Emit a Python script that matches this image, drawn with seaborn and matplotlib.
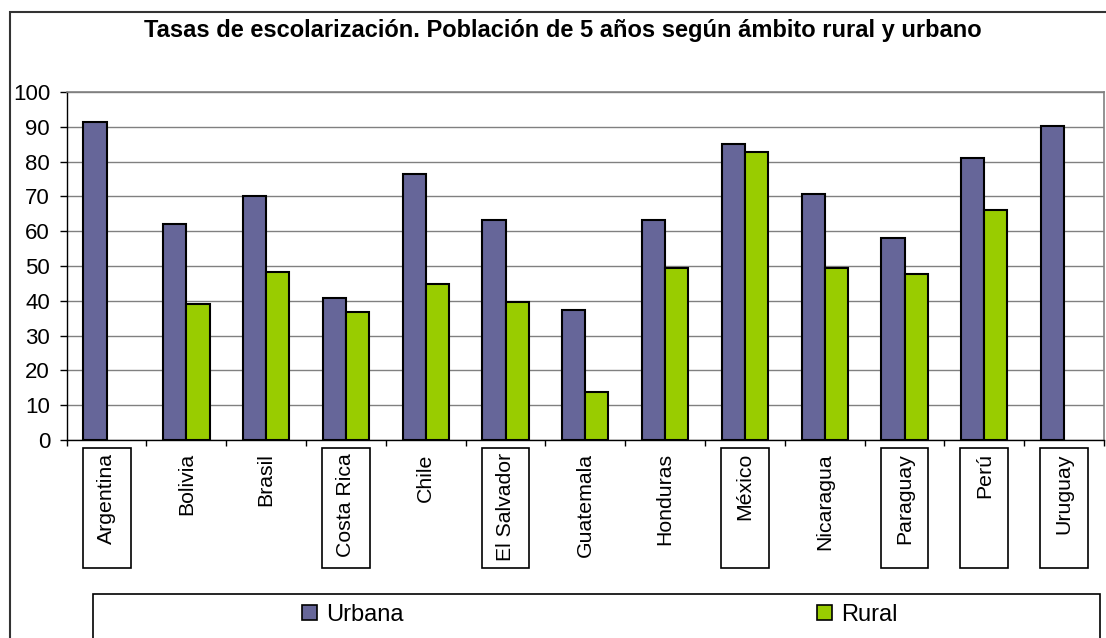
"""Tasas de escolarización, población de 5 años, ámbito rural y urbano."""

import numpy as np
import pandas as pd
import matplotlib
matplotlib.use("Agg")
import matplotlib.pyplot as plt
import matplotlib.transforms as mtransforms
from matplotlib.patches import Patch, Rectangle
import seaborn as sns

countries = ["Argentina", "Bolivia", "Brasil", "Costa Rica", "Chile", "El Salvador",
             "Guatemala", "Honduras", "México", "Nicaragua", "Paraguay", "Perú", "Uruguay"]
urbana = [91.3, 62.0, 70.0, 40.8, 76.4, 63.2, 37.3, 63.2, 85.0, 70.6, 58.0, 81.0, 90.1]
rural = [np.nan, 39.0, 48.2, 36.7, 44.8, 39.6, 13.8, 49.4, 82.7, 49.4, 47.7, 66.0, np.nan]
boxed = ["Argentina", "Costa Rica", "El Salvador", "México", "Paraguay", "Perú", "Uruguay"]
series = ["Urbana", "Rural"]
colors = {"Urbana": "#666699", "Rural": "#99CC00"}
title = "Tasas de escolarización. Población de 5 años según ámbito rural y urbano"

df = pd.DataFrame({
    "pais": countries * 2,
    "tasa": urbana + rural,
    "ambito": ["Urbana"] * len(countries) + ["Rural"] * len(countries),
})

sns.set_theme(style="white")
plt.rcParams["font.family"] = ["Liberation Sans", "DejaVu Sans"]
plt.rcParams["text.color"] = "black"

W, H = 1106, 638
fig = plt.figure(figsize=(W / 100, H / 100), dpi=100)
ax = fig.add_axes([66.7 / W, 1 - 440 / H, (1104 - 66.7) / W, (440 - 92) / H])

sns.barplot(data=df, x="pais", y="tasa", hue="ambito", hue_order=series,
            palette=colors, order=countries, width=0.58, errorbar=None,
            edgecolor="black", linewidth=1.5, saturation=1, legend=False, ax=ax)

ax.set_ylim(0, 100)
ax.set_xlim(-0.5, len(countries) - 0.5)
ax.set_yticks(np.arange(0, 101, 10))
ax.yaxis.grid(True, color="#808080", linewidth=1)
ax.xaxis.grid(False)
ax.set_axisbelow(True)
ax.set_xlabel("")
ax.set_ylabel("")

for side in ["top", "right"]:
    ax.spines[side].set_color("#808080")
    ax.spines[side].set_linewidth(1.2)
for side in ["left", "bottom"]:
    ax.spines[side].set_color("black")
    ax.spines[side].set_linewidth(1.0)

ax.tick_params(axis="y", which="major", direction="out", length=5, width=1,
               color="black", pad=7, labelsize=16, labelcolor="black", left=True)
ax.set_xticks(np.arange(len(countries) + 1) - 0.5, minor=True)
ax.tick_params(axis="x", which="minor", direction="out", length=4.5, width=1,
               color="black", bottom=True)
ax.tick_params(axis="x", which="major", length=0, pad=9.5, labelsize=15.3,
               labelcolor="black")
ax.set_xticks(range(len(countries)))
ax.set_xticklabels(countries, rotation=90, va="top", ha="center")

# boxes round some of the country labels
trans = mtransforms.blended_transform_factory(ax.transData, fig.transFigure)
for i, name in enumerate(countries):
    if name in boxed:
        ax.add_patch(Rectangle((i - 0.3, 1 - 568 / H), 0.6, 120 / H,
                               transform=trans, facecolor="none",
                               edgecolor="black", linewidth=1.2, clip_on=False))

fig.text(562.5 / W, 1 - 31 / H, title, ha="center", va="center",
         fontsize=17, fontweight="bold", color="black")

handles = [Patch(facecolor=colors[s], edgecolor="black", linewidth=1.2) for s in series]
fig.legend(handles, series, ncol=2, loc="center", bbox_to_anchor=(600 / W, 1 - 615 / H),
           frameon=False, fontsize=17, handlelength=0.63, handleheight=0.63,
           handletextpad=0.4, columnspacing=17.5, labelcolor="black")

# legend box and outer chart border, both running off the bottom of the picture
fig.add_artist(Rectangle((93 / W, -0.2), (1100 - 93) / W, 0.2 + 1 - 594 / H,
                         transform=fig.transFigure, facecolor="none",
                         edgecolor="black", linewidth=1.2))
fig.add_artist(Rectangle((10 / W, -0.2), 1.2, 0.2 + 1 - 12 / H,
                         transform=fig.transFigure, facecolor="none",
                         edgecolor="#333333", linewidth=1.5))

fig.savefig("out.png", dpi=100)
plt.close(fig)
